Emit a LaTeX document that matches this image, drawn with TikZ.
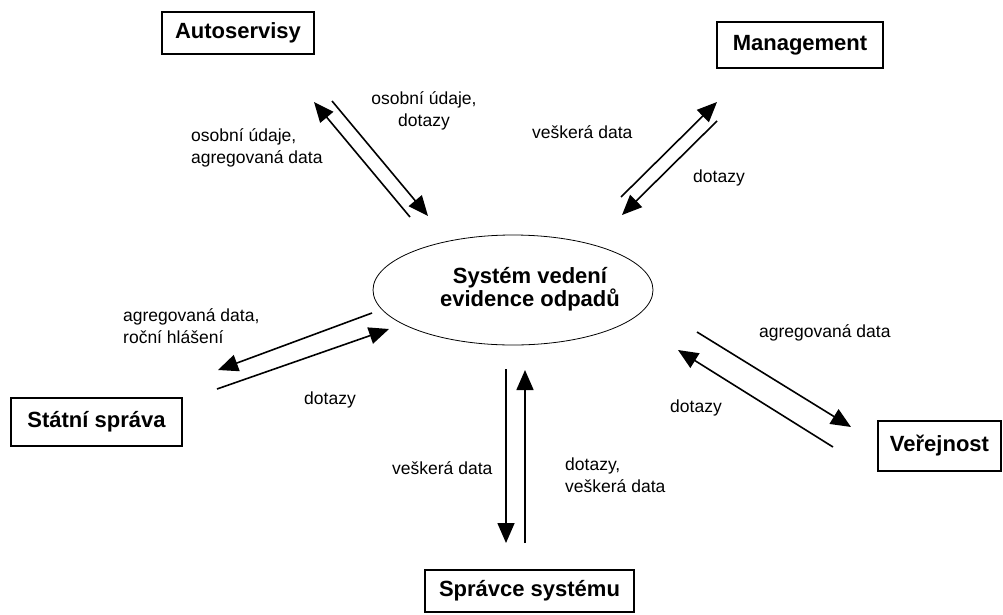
\documentclass[tikz,border=0pt]{standalone}
\usepackage{fontspec}
\setmainfont{Liberation Sans}
\usetikzlibrary{shapes.geometric,arrows.meta}
\begin{document}
\begin{tikzpicture}[x=1pt,y=-1pt,
  entbox/.style={draw,line width=1.3pt,inner sep=0pt,font=\fontsize{22}{26}\selectfont\bfseries},
  lbl/.style={inner sep=0pt,font=\fontsize{17.5}{22}\selectfont},
  arr/.style={line width=1.6pt,-{Triangle[length=20pt,width=17pt]}}]
\useasboundingbox (0,0) rectangle (1003,614);
% entities
\node[entbox,minimum width=152,minimum height=42] (auto) at (238,33) {Autoservisy};
\node[entbox,minimum width=166,minimum height=46] (mgmt) at (800,45) {Management};
\node[entbox,minimum width=171,minimum height=48] (stat) at (96.5,422) {Státní správa};
\node[entbox,minimum width=123,minimum height=50] (ver) at (939.5,446) {Veřejnost};
\node[entbox,minimum width=209,minimum height=42] (spr) at (529.5,591) {Správce systému};
% central process
\node[ellipse,draw,line width=0.8pt,minimum width=280,minimum height=110,inner sep=0pt] (sys) at (513,290) {};
\node[inner sep=0pt,align=center,font=\fontsize{22}{22}\selectfont\bfseries] (systxt) at (530,289) {Systém vedení\\evidence odpadů};
% arrow end points
\coordinate (a1s) at (410,217); \coordinate (a1e) at (314,102);
\coordinate (a2s) at (332,101); \coordinate (a2e) at (428,216);
\coordinate (m1s) at (621,197); \coordinate (m1e) at (717,102);
\coordinate (m2s) at (717,121); \coordinate (m2e) at (622,215);
\coordinate (s1s) at (372,313); \coordinate (s1e) at (218,370);
\coordinate (s2s) at (217,389); \coordinate (s2e) at (389,329);
\coordinate (v1s) at (697,332); \coordinate (v1e) at (851,427);
\coordinate (v2s) at (833,447); \coordinate (v2e) at (678,350);
\coordinate (p1s) at (506,369); \coordinate (p1e) at (506,543);
\coordinate (p2s) at (525,543); \coordinate (p2e) at (525,370);
% arrows
\draw[arr] (a1s) -- (a1e);
\draw[arr] (a2s) -- (a2e);
\draw[arr] (m1s) -- (m1e);
\draw[arr] (m2s) -- (m2e);
\draw[arr] (s1s) -- (s1e);
\draw[arr] (s2s) -- (s2e);
\draw[arr] (v1s) -- (v1e);
\draw[arr] (v2s) -- (v2e);
\draw[arr] (p1s) -- (p1e);
\draw[arr] (p2s) -- (p2e);
% labels
\node[lbl,align=center] (l1) at (424,111) {osobní údaje,\\dotazy};
\node[lbl,align=left,anchor=west] (l2) at (191,148) {osobní údaje,\\agregovaná data};
\node[lbl,anchor=west] (l3) at (532,132) {veškerá data};
\node[lbl,anchor=west] (l4) at (693,178) {dotazy};
\node[lbl,align=left,anchor=west] (l5) at (123,326) {agregovaná data,\\roční hlášení};
\node[lbl,anchor=west] (l6) at (304,400) {dotazy};
\node[lbl,anchor=west] (l7) at (759,333) {agregovaná data};
\node[lbl,anchor=west] (l8) at (670,408) {dotazy};
\node[lbl,anchor=west] (l9) at (392,468) {veškerá data};
\node[lbl,align=left,anchor=west] (l10) at (565,475) {dotazy,\\veškerá data};
\end{tikzpicture}
\end{document}
